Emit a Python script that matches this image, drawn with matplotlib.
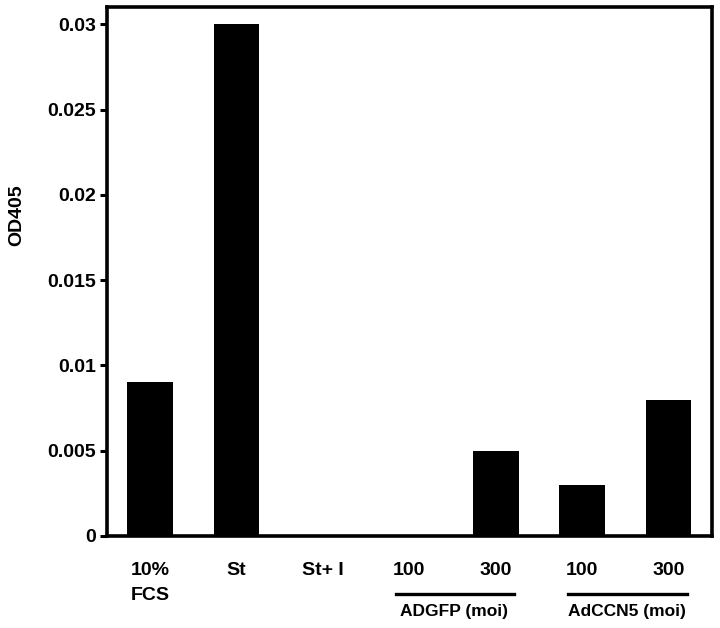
import matplotlib
matplotlib.use('Agg')
import matplotlib.pyplot as plt

plt.rcParams['font.family'] = ['Liberation Sans', 'DejaVu Sans']
plt.rcParams['font.weight'] = 'bold'

# Dados
categories = ['10%\nFCS', 'St', 'St+ I', '100', '300', '100', '300']
od405 = [0.009, 0.030, 0.0, 0.0, 0.005, 0.003, 0.008]
groups = ['ADGFP (moi)', 'AdCCN5 (moi)']
group_members = [(3, 4), (5, 6)]
yticks = [0, 0.005, 0.01, 0.015, 0.02, 0.025, 0.03]
ytick_labels = ['0', '0.005', '0.01', '0.015', '0.02', '0.025', '0.03']

fig = plt.figure(figsize=(7.2, 6.28), dpi=100)
ax = fig.add_axes([0.1486, 0.1465, 0.840, 0.842])

x = list(range(len(categories)))
ax.bar(x, od405, width=0.53, color='black')

ax.set_xlim(-0.5, len(categories) - 0.5)
ax.set_ylim(0, 0.031)
ax.set_yticks(yticks)
ax.set_yticklabels(ytick_labels, fontsize=14, fontweight='bold')
ax.set_xticks(x)
ax.set_xticklabels(categories, fontsize=14, fontweight='bold', linespacing=1.6, va='top')
ax.tick_params(axis='x', length=0, pad=19)
ax.tick_params(axis='y', length=5, width=2.2, direction='out', pad=3)
ax.set_ylabel('OD405', fontsize=14, fontweight='bold', labelpad=14)
ax.yaxis.set_label_coords(-0.135, 0.607)

for s in ax.spines.values():
    s.set_linewidth(2.6)

# Linhas e rótulos dos grupos
trans = ax.get_xaxis_transform()
for name, (a, b) in zip(groups, group_members):
    ax.plot([a - 0.16, b + 0.21], [-0.110, -0.110], color='black', lw=2.4,
            transform=trans, clip_on=False)
    ax.text((a + b) / 2 + 0.02, -0.128, name, transform=trans, ha='center', va='top',
            fontsize=12.5, fontweight='bold')

plt.savefig('out.png', dpi=100)
plt.close()
